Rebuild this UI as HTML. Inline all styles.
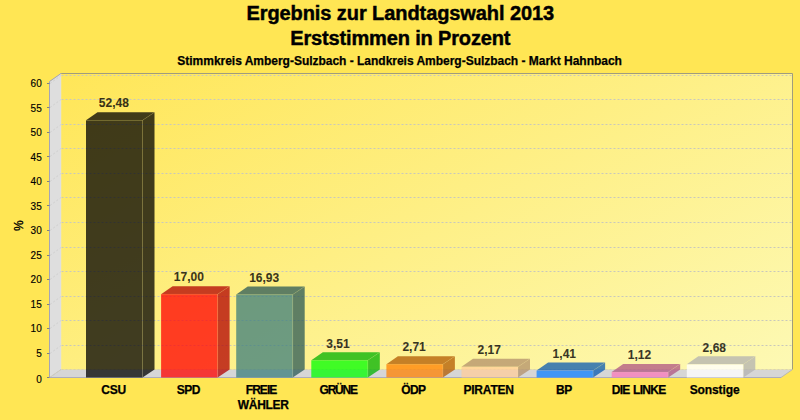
<!DOCTYPE html><html><head><meta charset="utf-8"><style>
html,body{margin:0;padding:0}
body{width:800px;height:420px;background:#ffe654;position:relative;overflow:hidden;font-family:"Liberation Sans",sans-serif;color:#000}
.t{position:absolute;white-space:nowrap;line-height:1}
.c{transform:translateX(-50%);text-align:center}
.b{font-weight:bold}
.tk{font-size:10px;right:758.3px;text-align:right;-webkit-text-stroke:0.15px #000}
.v{font-size:12px;font-weight:bold;color:rgba(0,0,0,0.78);-webkit-text-stroke:0.2px rgba(0,0,0,0.5)}
.l{font-size:12px;font-weight:bold;line-height:14px;-webkit-text-stroke:0.25px #000}

</style></head><body>
<svg width="800" height="420" viewBox="0 0 800 420" style="position:absolute;left:0;top:0">
<defs>
<linearGradient id="wall" gradientUnits="userSpaceOnUse" x1="61" y1="73" x2="349" y2="608">
<stop offset="0" stop-color="#ffe658"/><stop offset="1" stop-color="#fdf9b4"/></linearGradient>
</defs>
<rect x="61.0" y="73.5" width="731.5" height="296.0" fill="url(#wall)"/>
<polygon points="49.5,81.5 61.0,73.5 61.0,369.5 49.5,377.5" fill="#dedede"/>
<polygon points="49.5,377.5 61.0,369.5 792.5,369.5 781.0,377.5" fill="#d6d6d6"/>
<line x1="50.0" y1="377.5" x2="61.0" y2="369.5" stroke="#c4c4c4" stroke-width="0.8" stroke-dasharray="2 2" stroke-opacity="0.8"/>
<line x1="61.5" y1="369.5" x2="792.5" y2="369.5" stroke="#c8c8bc" stroke-width="1" stroke-dasharray="2 2" stroke-opacity="0.55"/>
<line x1="50.0" y1="353.5" x2="61.0" y2="345.5" stroke="#c4c4c4" stroke-width="0.8" stroke-dasharray="2 2" stroke-opacity="0.8"/>
<line x1="61.5" y1="345.5" x2="792.5" y2="345.5" stroke="#c8c8bc" stroke-width="1" stroke-dasharray="2 2" stroke-opacity="1"/>
<line x1="50.0" y1="328.5" x2="61.0" y2="320.5" stroke="#c4c4c4" stroke-width="0.8" stroke-dasharray="2 2" stroke-opacity="0.8"/>
<line x1="61.5" y1="320.5" x2="792.5" y2="320.5" stroke="#c8c8bc" stroke-width="1" stroke-dasharray="2 2" stroke-opacity="1"/>
<line x1="50.0" y1="304.5" x2="61.0" y2="296.5" stroke="#c4c4c4" stroke-width="0.8" stroke-dasharray="2 2" stroke-opacity="0.8"/>
<line x1="61.5" y1="296.5" x2="792.5" y2="296.5" stroke="#c8c8bc" stroke-width="1" stroke-dasharray="2 2" stroke-opacity="1"/>
<line x1="50.0" y1="279.5" x2="61.0" y2="271.5" stroke="#c4c4c4" stroke-width="0.8" stroke-dasharray="2 2" stroke-opacity="0.8"/>
<line x1="61.5" y1="271.5" x2="792.5" y2="271.5" stroke="#c8c8bc" stroke-width="1" stroke-dasharray="2 2" stroke-opacity="1"/>
<line x1="50.0" y1="255.5" x2="61.0" y2="247.5" stroke="#c4c4c4" stroke-width="0.8" stroke-dasharray="2 2" stroke-opacity="0.8"/>
<line x1="61.5" y1="247.5" x2="792.5" y2="247.5" stroke="#c8c8bc" stroke-width="1" stroke-dasharray="2 2" stroke-opacity="1"/>
<line x1="50.0" y1="230.5" x2="61.0" y2="222.5" stroke="#c4c4c4" stroke-width="0.8" stroke-dasharray="2 2" stroke-opacity="0.8"/>
<line x1="61.5" y1="222.5" x2="792.5" y2="222.5" stroke="#c8c8bc" stroke-width="1" stroke-dasharray="2 2" stroke-opacity="1"/>
<line x1="50.0" y1="205.5" x2="61.0" y2="197.5" stroke="#c4c4c4" stroke-width="0.8" stroke-dasharray="2 2" stroke-opacity="0.8"/>
<line x1="61.5" y1="197.5" x2="792.5" y2="197.5" stroke="#c8c8bc" stroke-width="1" stroke-dasharray="2 2" stroke-opacity="1"/>
<line x1="50.0" y1="181.5" x2="61.0" y2="173.5" stroke="#c4c4c4" stroke-width="0.8" stroke-dasharray="2 2" stroke-opacity="0.8"/>
<line x1="61.5" y1="173.5" x2="792.5" y2="173.5" stroke="#c8c8bc" stroke-width="1" stroke-dasharray="2 2" stroke-opacity="1"/>
<line x1="50.0" y1="156.5" x2="61.0" y2="148.5" stroke="#c4c4c4" stroke-width="0.8" stroke-dasharray="2 2" stroke-opacity="0.8"/>
<line x1="61.5" y1="148.5" x2="792.5" y2="148.5" stroke="#c8c8bc" stroke-width="1" stroke-dasharray="2 2" stroke-opacity="1"/>
<line x1="50.0" y1="132.5" x2="61.0" y2="124.5" stroke="#c4c4c4" stroke-width="0.8" stroke-dasharray="2 2" stroke-opacity="0.8"/>
<line x1="61.5" y1="124.5" x2="792.5" y2="124.5" stroke="#c8c8bc" stroke-width="1" stroke-dasharray="2 2" stroke-opacity="1"/>
<line x1="50.0" y1="107.5" x2="61.0" y2="99.5" stroke="#c4c4c4" stroke-width="0.8" stroke-dasharray="2 2" stroke-opacity="0.8"/>
<line x1="61.5" y1="99.5" x2="792.5" y2="99.5" stroke="#c8c8bc" stroke-width="1" stroke-dasharray="2 2" stroke-opacity="1"/>
<line x1="50.0" y1="83.5" x2="61.0" y2="75.5" stroke="#c4c4c4" stroke-width="0.8" stroke-dasharray="2 2" stroke-opacity="0.8"/>
<line x1="61.5" y1="75.5" x2="792.5" y2="75.5" stroke="#c8c8bc" stroke-width="1" stroke-dasharray="2 2" stroke-opacity="1"/>
<polyline points="49.5,377.5 49.5,81.5 61.0,73.5" fill="none" stroke="#a4a4b6" stroke-width="1"/>
<polyline points="60.5,73.5 792.5,73.5 792.5,369.5" fill="none" stroke="#a09c7c" stroke-width="1"/>
<line x1="792.5" y1="369.5" x2="781.0" y2="377.5" stroke="#b0b0b0" stroke-width="0.8"/>
<line x1="61.0" y1="73.5" x2="61.0" y2="369.5" stroke="#e4e4d8" stroke-width="0.5"/>
<line x1="49.5" y1="377.5" x2="61.0" y2="369.5" stroke="#c4c4c4" stroke-width="0.7"/>
<line x1="49.5" y1="377.5" x2="781.0" y2="377.5" stroke="#acacbc" stroke-width="1"/>
<polygon points="142.5,120.34800000000001 154.5,112.34800000000001 154.5,369.5 142.5,377.5" fill="rgb(0,0,0)" fill-opacity="0.75"/>
<polygon points="86.0,120.34800000000001 97.5,112.34800000000001 154.5,112.34800000000001 142.5,120.34800000000001" fill="rgb(0,0,0)" fill-opacity="0.75"/>
<rect x="86.0" y="120.34800000000001" width="56.5" height="257.152" fill="rgb(0,0,0)" fill-opacity="0.75"/>
<line x1="86.0" y1="120.34800000000001" x2="142.5" y2="120.34800000000001" stroke="#fff0a0" stroke-opacity="0.08" stroke-width="1"/>
<line x1="142.5" y1="120.34800000000001" x2="142.5" y2="377.5" stroke="#fff0a0" stroke-opacity="0.16" stroke-width="1"/>
<line x1="142.5" y1="120.34800000000001" x2="154.5" y2="112.34800000000001" stroke="#fff0a0" stroke-opacity="0.15" stroke-width="1"/>
<polygon points="217.6,294.2 229.6,286.2 229.6,369.5 217.6,377.5" fill="rgb(178,0,0)" fill-opacity="0.75"/>
<polygon points="161.1,294.2 172.6,286.2 229.6,286.2 217.6,294.2" fill="rgb(178,0,0)" fill-opacity="0.75"/>
<rect x="161.1" y="294.2" width="56.5" height="83.30000000000001" fill="rgb(255,0,0)" fill-opacity="0.75"/>
<line x1="161.1" y1="294.2" x2="217.6" y2="294.2" stroke="#fff0a0" stroke-opacity="0.08" stroke-width="1"/>
<line x1="217.6" y1="294.2" x2="217.6" y2="377.5" stroke="#fff0a0" stroke-opacity="0.16" stroke-width="1"/>
<line x1="217.6" y1="294.2" x2="229.6" y2="286.2" stroke="#fff0a0" stroke-opacity="0.15" stroke-width="1"/>
<polygon points="292.7,294.543 304.7,286.543 304.7,369.5 292.7,377.5" fill="rgb(42,88,87)" fill-opacity="0.75"/>
<polygon points="236.2,294.543 247.7,286.543 304.7,286.543 292.7,294.543" fill="rgb(42,88,87)" fill-opacity="0.75"/>
<rect x="236.2" y="294.543" width="56.5" height="82.957" fill="rgb(60,126,124)" fill-opacity="0.75"/>
<line x1="236.2" y1="294.543" x2="292.7" y2="294.543" stroke="#fff0a0" stroke-opacity="0.08" stroke-width="1"/>
<line x1="292.7" y1="294.543" x2="292.7" y2="377.5" stroke="#fff0a0" stroke-opacity="0.16" stroke-width="1"/>
<line x1="292.7" y1="294.543" x2="304.7" y2="286.543" stroke="#fff0a0" stroke-opacity="0.15" stroke-width="1"/>
<polygon points="367.79999999999995,360.301 379.79999999999995,352.301 379.79999999999995,369.5 367.79999999999995,377.5" fill="rgb(0,178,0)" fill-opacity="0.75"/>
<polygon points="311.29999999999995,360.301 322.79999999999995,352.301 379.79999999999995,352.301 367.79999999999995,360.301" fill="rgb(0,178,0)" fill-opacity="0.75"/>
<rect x="311.29999999999995" y="360.301" width="56.5" height="17.199000000000012" fill="rgb(0,255,0)" fill-opacity="0.75"/>
<line x1="311.29999999999995" y1="360.301" x2="367.79999999999995" y2="360.301" stroke="#fff0a0" stroke-opacity="0.08" stroke-width="1"/>
<line x1="367.79999999999995" y1="360.301" x2="367.79999999999995" y2="377.5" stroke="#fff0a0" stroke-opacity="0.16" stroke-width="1"/>
<line x1="367.79999999999995" y1="360.301" x2="379.79999999999995" y2="352.301" stroke="#fff0a0" stroke-opacity="0.15" stroke-width="1"/>
<polygon points="442.9,364.221 454.9,356.221 454.9,369.5 442.9,377.5" fill="rgb(178,90,0)" fill-opacity="0.75"/>
<polygon points="386.4,364.221 397.9,356.221 454.9,356.221 442.9,364.221" fill="rgb(178,90,0)" fill-opacity="0.75"/>
<rect x="386.4" y="364.221" width="56.5" height="13.278999999999996" fill="rgb(255,128,0)" fill-opacity="0.75"/>
<line x1="386.4" y1="364.221" x2="442.9" y2="364.221" stroke="#fff0a0" stroke-opacity="0.08" stroke-width="1"/>
<line x1="442.9" y1="364.221" x2="442.9" y2="377.5" stroke="#fff0a0" stroke-opacity="0.16" stroke-width="1"/>
<line x1="442.9" y1="364.221" x2="454.9" y2="356.221" stroke="#fff0a0" stroke-opacity="0.15" stroke-width="1"/>
<polygon points="518.0,366.867 530.0,358.867 530.0,369.5 518.0,377.5" fill="rgb(178,143,107)" fill-opacity="0.75"/>
<polygon points="461.5,366.867 473.0,358.867 530.0,358.867 518.0,366.867" fill="rgb(178,143,107)" fill-opacity="0.75"/>
<rect x="461.5" y="366.867" width="56.5" height="10.632999999999981" fill="rgb(255,204,153)" fill-opacity="0.75"/>
<line x1="461.5" y1="366.867" x2="518.0" y2="366.867" stroke="#fff0a0" stroke-opacity="0.08" stroke-width="1"/>
<line x1="518.0" y1="366.867" x2="518.0" y2="377.5" stroke="#fff0a0" stroke-opacity="0.16" stroke-width="1"/>
<line x1="518.0" y1="366.867" x2="530.0" y2="358.867" stroke="#fff0a0" stroke-opacity="0.15" stroke-width="1"/>
<polygon points="593.0999999999999,370.591 605.0999999999999,362.591 605.0999999999999,369.5 593.0999999999999,377.5" fill="rgb(8,90,178)" fill-opacity="0.75"/>
<polygon points="536.5999999999999,370.591 548.0999999999999,362.591 605.0999999999999,362.591 593.0999999999999,370.591" fill="rgb(8,90,178)" fill-opacity="0.75"/>
<rect x="536.5999999999999" y="370.591" width="56.5" height="6.908999999999992" fill="rgb(12,128,255)" fill-opacity="0.75"/>
<line x1="536.5999999999999" y1="370.591" x2="593.0999999999999" y2="370.591" stroke="#fff0a0" stroke-opacity="0.08" stroke-width="1"/>
<line x1="593.0999999999999" y1="370.591" x2="593.0999999999999" y2="377.5" stroke="#fff0a0" stroke-opacity="0.16" stroke-width="1"/>
<line x1="593.0999999999999" y1="370.591" x2="605.0999999999999" y2="362.591" stroke="#fff0a0" stroke-opacity="0.15" stroke-width="1"/>
<polygon points="668.1999999999999,372.012 680.1999999999999,364.012 680.1999999999999,369.5 668.1999999999999,377.5" fill="rgb(175,84,130)" fill-opacity="0.75"/>
<polygon points="611.6999999999999,372.012 623.1999999999999,364.012 680.1999999999999,364.012 668.1999999999999,372.012" fill="rgb(175,84,130)" fill-opacity="0.75"/>
<rect x="611.6999999999999" y="372.012" width="56.5" height="5.4879999999999995" fill="rgb(250,120,186)" fill-opacity="0.75"/>
<line x1="611.6999999999999" y1="372.012" x2="668.1999999999999" y2="372.012" stroke="#fff0a0" stroke-opacity="0.08" stroke-width="1"/>
<line x1="668.1999999999999" y1="372.012" x2="668.1999999999999" y2="377.5" stroke="#fff0a0" stroke-opacity="0.16" stroke-width="1"/>
<line x1="668.1999999999999" y1="372.012" x2="680.1999999999999" y2="364.012" stroke="#fff0a0" stroke-opacity="0.15" stroke-width="1"/>
<polygon points="743.3,364.368 755.3,356.368 755.3,369.5 743.3,377.5" fill="rgb(178,178,178)" fill-opacity="0.75"/>
<polygon points="686.8,364.368 698.3,356.368 755.3,356.368 743.3,364.368" fill="rgb(178,178,178)" fill-opacity="0.75"/>
<rect x="686.8" y="364.368" width="56.5" height="13.132000000000005" fill="rgb(255,255,255)" fill-opacity="0.75"/>
<line x1="686.8" y1="364.368" x2="743.3" y2="364.368" stroke="#fff0a0" stroke-opacity="0.08" stroke-width="1"/>
<line x1="743.3" y1="364.368" x2="743.3" y2="377.5" stroke="#fff0a0" stroke-opacity="0.16" stroke-width="1"/>
<line x1="743.3" y1="364.368" x2="755.3" y2="356.368" stroke="#fff0a0" stroke-opacity="0.15" stroke-width="1"/>
<line x1="47.0" y1="377.5" x2="49.5" y2="377.5" stroke="#808080" stroke-width="1"/>
<line x1="47.0" y1="353.5" x2="49.5" y2="353.5" stroke="#808080" stroke-width="1"/>
<line x1="47.0" y1="328.5" x2="49.5" y2="328.5" stroke="#808080" stroke-width="1"/>
<line x1="47.0" y1="304.5" x2="49.5" y2="304.5" stroke="#808080" stroke-width="1"/>
<line x1="47.0" y1="279.5" x2="49.5" y2="279.5" stroke="#808080" stroke-width="1"/>
<line x1="47.0" y1="255.5" x2="49.5" y2="255.5" stroke="#808080" stroke-width="1"/>
<line x1="47.0" y1="230.5" x2="49.5" y2="230.5" stroke="#808080" stroke-width="1"/>
<line x1="47.0" y1="205.5" x2="49.5" y2="205.5" stroke="#808080" stroke-width="1"/>
<line x1="47.0" y1="181.5" x2="49.5" y2="181.5" stroke="#808080" stroke-width="1"/>
<line x1="47.0" y1="156.5" x2="49.5" y2="156.5" stroke="#808080" stroke-width="1"/>
<line x1="47.0" y1="132.5" x2="49.5" y2="132.5" stroke="#808080" stroke-width="1"/>
<line x1="47.0" y1="107.5" x2="49.5" y2="107.5" stroke="#808080" stroke-width="1"/>
<line x1="47.0" y1="83.5" x2="49.5" y2="83.5" stroke="#808080" stroke-width="1"/>
</svg>
<div class="t c b" style="left:400.3px;top:3.1px;font-size:20px;letter-spacing:-0.08px;-webkit-text-stroke:0.45px #000">Ergebnis zur Landtagswahl 2013</div>
<div class="t c b" style="left:400.3px;top:28.1px;font-size:20px;letter-spacing:-0.15px;-webkit-text-stroke:0.45px #000">Erststimmen in Prozent</div>
<div class="t c b" style="left:399.6px;top:55px;font-size:12px;letter-spacing:-0.018px;-webkit-text-stroke:0.25px #000">Stimmkreis Amberg-Sulzbach - Landkreis Amberg-Sulzbach - Markt Hahnbach</div>
<div class="t tk" style="top:374.5px">0</div>
<div class="t tk" style="top:348.5px">5</div>
<div class="t tk" style="top:324.0px">10</div>
<div class="t tk" style="top:299.5px">15</div>
<div class="t tk" style="top:275.0px">20</div>
<div class="t tk" style="top:250.5px">25</div>
<div class="t tk" style="top:226.0px">30</div>
<div class="t tk" style="top:201.5px">35</div>
<div class="t tk" style="top:177.0px">40</div>
<div class="t tk" style="top:152.5px">45</div>
<div class="t tk" style="top:128.0px">50</div>
<div class="t tk" style="top:103.5px">55</div>
<div class="t tk" style="top:79.0px">60</div>
<div class="t" style="left:13px;top:231px;font-size:12px;transform:rotate(-90deg);transform-origin:left top;width:12px;-webkit-text-stroke:0.35px #000;">%</div>
<div class="t c v" style="left:113.8px;top:97.3px">52,48</div>
<div class="t l" id="lab0_0" style="left:101.16px;top:383px;letter-spacing:-0.190px">CSU</div>
<div class="t c v" style="left:188.8px;top:271.2px">17,00</div>
<div class="t l" id="lab1_0" style="left:176.65px;top:383px;letter-spacing:-0.404px">SPD</div>
<div class="t c v" style="left:264.2px;top:271.5px">16,93</div>
<div class="t l" id="lab2_0" style="left:245.73px;top:383px;letter-spacing:-0.922px">FREIE</div>
<div class="t l" id="lab2_1" style="left:237.78px;top:398px;letter-spacing:-0.312px">WÄHLER</div>
<div class="t c v" style="left:338.0px;top:338.3px">3,51</div>
<div class="t l" id="lab3_0" style="left:319.53px;top:383px;letter-spacing:-1.198px">GRÜNE</div>
<div class="t c v" style="left:414.1px;top:341.2px">2,71</div>
<div class="t l" id="lab4_0" style="left:401.21px;top:383px;letter-spacing:-0.573px">ÖDP</div>
<div class="t c v" style="left:489.2px;top:343.9px">2,17</div>
<div class="t l" id="lab5_0" style="left:463.38px;top:383px;letter-spacing:-0.188px">PIRATEN</div>
<div class="t c v" style="left:564.3px;top:347.6px">1,41</div>
<div class="t l" id="lab6_0" style="left:556.04px;top:383px;letter-spacing:-0.519px">BP</div>
<div class="t c v" style="left:639.4px;top:349.0px">1,12</div>
<div class="t l" id="lab7_0" style="left:611.72px;top:383px;letter-spacing:-0.709px;word-spacing:0.9px">DIE LINKE</div>
<div class="t c v" style="left:714.3px;top:342.4px">2,68</div>
<div class="t l" id="lab8_0" style="left:689.65px;top:383px;letter-spacing:-0.093px">Sonstige</div>
</body></html>
